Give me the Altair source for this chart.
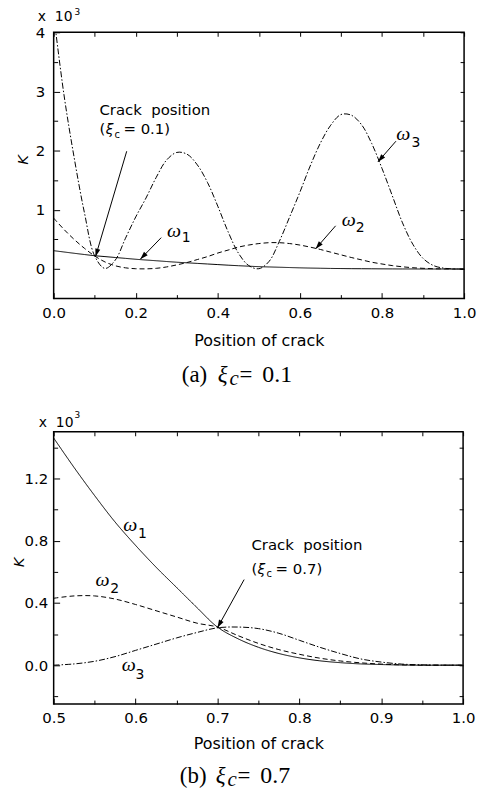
import math
import altair as alt
import pandas as pd

FONT = "DejaVu Sans"
SERIF = "Liberation Serif"
NB = "\u00a0"

# ---------------- data: panel (a), crack at xi_c = 0.1 ----------------
xa = [0.000, 0.025, 0.050, 0.075, 0.100, 0.125, 0.150, 0.175, 0.200, 0.225,
      0.250, 0.275, 0.300, 0.325, 0.350, 0.375, 0.400, 0.425, 0.450, 0.475,
      0.500, 0.525, 0.550, 0.575, 0.600, 0.625, 0.650, 0.675, 0.700, 0.725,
      0.750, 0.775, 0.800, 0.825, 0.850, 0.875, 0.900, 0.925, 0.950, 0.975, 1.000]
a_w1 = [0.310, 0.288, 0.266, 0.245, 0.225, 0.210, 0.195, 0.180, 0.165, 0.152,
        0.140, 0.127, 0.115, 0.105, 0.095, 0.085, 0.075, 0.065, 0.056, 0.048,
        0.040, 0.035, 0.030, 0.025, 0.020, 0.016, 0.013, 0.010, 0.008, 0.006,
        0.005, 0.004, 0.003, 0.002, 0.001, 0.001, 0.000, 0.000, 0.000, 0.000, 0.000]
a_w2 = [0.86, 0.67, 0.50, 0.35, 0.22, 0.12, 0.055, 0.02, 0.005, 0.003,
        0.012, 0.035, 0.07, 0.11, 0.16, 0.21, 0.27, 0.32, 0.37, 0.405,
        0.43, 0.445, 0.445, 0.43, 0.405, 0.37, 0.33, 0.285, 0.24, 0.195,
        0.155, 0.115, 0.085, 0.058, 0.038, 0.022, 0.012, 0.005, 0.002, 0.0, 0.0]
a_w3 = [4.30, 2.95, 1.88, 0.95, 0.22, 0.01, 0.15, 0.52, 0.88, 1.20,
        1.55, 1.84, 1.97, 1.94, 1.76, 1.46, 1.06, 0.63, 0.27, 0.06,
        0.005, 0.13, 0.47, 0.88, 1.30, 1.74, 2.13, 2.43, 2.61, 2.60,
        2.44, 2.12, 1.70, 1.24, 0.78, 0.42, 0.18, 0.06, 0.015, 0.002, 0.0]
a_xmaj = [0.0, 0.2, 0.4, 0.6, 0.8, 1.0]
a_xmin = [0.1, 0.3, 0.5, 0.7, 0.9]
a_ymaj = [0, 1, 2, 3, 4]
a_ymin = [0.5, 1.5, 2.5, 3.5]

# ---------------- data: panel (b), crack at xi_c = 0.7 ----------------
xb = [0.500, 0.525, 0.550, 0.575, 0.600, 0.625, 0.650, 0.675, 0.700, 0.725,
      0.750, 0.775, 0.800, 0.825, 0.850, 0.875, 0.900, 0.925, 0.950, 0.975, 1.000]
b_w1 = [1.46, 1.27, 1.09, 0.92, 0.77, 0.63, 0.50, 0.37, 0.245, 0.17,
        0.115, 0.075, 0.047, 0.028, 0.016, 0.008, 0.004, 0.001, 0.0, 0.0, 0.0]
b_w2 = [0.43, 0.445, 0.445, 0.425, 0.39, 0.35, 0.31, 0.27, 0.245, 0.19,
        0.14, 0.10, 0.07, 0.045, 0.027, 0.015, 0.007, 0.002, 0.0, 0.0, 0.0]
b_w3 = [0.0, 0.008, 0.025, 0.055, 0.095, 0.135, 0.175, 0.21, 0.24, 0.245,
        0.235, 0.205, 0.16, 0.115, 0.075, 0.04, 0.02, 0.007, 0.002, 0.0, 0.0]
b_xmaj = [0.5, 0.6, 0.7, 0.8, 0.9, 1.0]
b_xmin = [0.55, 0.65, 0.75, 0.85, 0.95]
b_ymaj = [0.0, 0.4, 0.8, 1.2]
b_ymin = [-0.2, 0.2, 0.6, 1.0, 1.4]

SERIES = ["w1", "w2", "w3"]

ARROW = "M0,0L-0.32,1L0.32,1Z"


def long_df(xs, w1, w2, w3):
    rows = []
    for name, ys in zip(SERIES, (w1, w2, w3)):
        for x, y in zip(xs, ys):
            rows.append({"x": x, "K": y, "s": name})
    return pd.DataFrame(rows)


def panel(df, xdom, ydom, W, H, xmaj, xmin, ymaj, ymin, yfmt, ylabpad,
          ktitle_x, ktitle_y, xtitle_y, ann):
    xs = alt.Scale(domain=xdom, nice=False, zero=False)
    ys = alt.Scale(domain=ydom, nice=False, zero=False)
    pxx = W / (xdom[1] - xdom[0])
    pxy = H / (ydom[1] - ydom[0])

    lines = alt.Chart(df).mark_line(
        clip=True, color="black", strokeWidth=1, interpolate="catmull-rom"
    ).encode(
        x=alt.X("x:Q", scale=xs, title="Position of crack",
                axis=alt.Axis(values=xmaj, format=".1f", ticks=False, domain=False,
                              grid=False, labelFlush=False, labelFont=FONT,
                              labelFontSize=15, labelColor="black", labelPadding=7,
                              titleFont=FONT, titleFontSize=16, titleFontWeight="normal",
                              titleColor="black", titleBaseline="alphabetic",
                              titleY=xtitle_y)),
        y=alt.Y("K:Q", scale=ys, title="K",
                axis=alt.Axis(values=ymaj, format=yfmt, ticks=False, domain=False,
                              grid=False, labelFont=FONT, labelFontSize=15,
                              labelColor="black", labelPadding=ylabpad,
                              titleFont=FONT, titleFontSize=15, titleFontStyle="italic",
                              titleFontWeight="normal", titleColor="black",
                              titleBaseline="alphabetic", titleX=ktitle_x,
                              titleY=ktitle_y)),
        strokeDash=alt.StrokeDash("s:N", scale=alt.Scale(
            domain=SERIES, range=[[1, 0], [5, 3], [6, 2, 1.5, 2]]), legend=None),
        detail="s:N",
    )

    box = pd.DataFrame({"x": xdom, "K": ydom})

    def ticklayer(xo, yo, xv, yv, size):
        common = dict(ticks=True, tickSize=size, offset=-size, labels=False,
                      domain=False, grid=False, tickColor="black", tickWidth=1)
        return alt.Chart(box).mark_point(opacity=0, size=1).encode(
            x=alt.X("x:Q", scale=xs, title=None,
                    axis=alt.Axis(orient=xo, values=xv, **common)),
            y=alt.Y("K:Q", scale=ys, title=None,
                    axis=alt.Axis(orient=yo, values=yv, **common)),
        )

    layers = [
        lines,
        ticklayer("bottom", "left", xmaj, ymaj, 6),
        ticklayer("bottom", "left", xmin, ymin, 4),
        ticklayer("top", "right", xmaj + xmin, ymaj + ymin, 4),
    ]

    def dtext(rows, font, size, style="normal"):
        return alt.Chart(pd.DataFrame(rows)).mark_text(
            align="left", baseline="alphabetic", font=font, fontSize=size,
            fontStyle=style, color="black"
        ).encode(x=alt.X("x:Q", scale=xs, axis=None),
                 y=alt.Y("y:Q", scale=ys, axis=None), text="t:N")

    def ptext(t, px, py, font, size, style="normal"):
        return alt.Chart(pd.DataFrame({"t": [t]})).mark_text(
            align="left", baseline="alphabetic", font=font, fontSize=size,
            fontStyle=style, color="black"
        ).encode(x=alt.value(px), y=alt.value(py), text="t:N")

    layers += [
        dtext(ann["sans15"], FONT, 15),
        dtext(ann["xi"], FONT, 14, "italic"),
        dtext(ann["sub_c"], FONT, 10),
        dtext(ann["omega"], SERIF, 20, "italic"),
        dtext(ann["sub_n"], FONT, 14),
    ]

    arr = pd.DataFrame(ann["arrows"], columns=["x", "y", "x2", "y2"])
    arr["a"] = [math.degrees(math.atan2((r.x2 - r.x) * pxx, (r.y2 - r.y) * pxy)) % 360
                for r in arr.itertuples()]
    layers.append(alt.Chart(arr).mark_rule(color="black", strokeWidth=1).encode(
        x=alt.X("x:Q", scale=xs, axis=None), y=alt.Y("y:Q", scale=ys, axis=None),
        x2="x2:Q", y2="y2:Q"))
    layers.append(alt.Chart(arr).mark_point(
        shape=ARROW, filled=True, size=260, color="black", opacity=1
    ).encode(x=alt.X("x2:Q", scale=xs, axis=None), y=alt.Y("y2:Q", scale=ys, axis=None),
             angle=alt.Angle("a:Q", scale=None)))

    # multiplier "x 10^3" above the frame and the caption below
    m = ann["mult"]
    layers.append(ptext("x" + NB + NB + "10", m[0], m[1], FONT, 14))
    layers.append(ptext("3", m[2], m[3], FONT, 9))
    c = ann["caption"]
    layers.append(ptext(c["tag"], c["x"][0], H + c["dy"], SERIF, 23))
    layers.append(ptext("ξ", c["x"][1], H + c["dy"], SERIF, 23, "italic"))
    layers.append(ptext("c", c["x"][2], H + c["dy"] + 3, SERIF, 21, "italic"))
    layers.append(ptext("=", c["x"][3], H + c["dy"], SERIF, 23))
    layers.append(ptext(c["val"], c["x"][4], H + c["dy"], SERIF, 24))

    return alt.layer(*layers).resolve_axis(x="independent", y="independent").properties(
        width=W, height=H)


CRACK = "Crack" + NB + NB + "position"

# annotation placements (data coordinates unless noted)
ann_a = {
    "sans15": [{"x": 0.1114, "y": 2.600, "t": CRACK},
               {"x": 0.1114, "y": 2.280, "t": "("},
               {"x": 0.1700, "y": 2.280, "t": "= 0.1)"}],
    "xi": [{"x": 0.1270, "y": 2.280, "t": "ξ"}],
    "sub_c": [{"x": 0.1480, "y": 2.215, "t": "c"}],
    "omega": [{"x": 0.276, "y": 0.54, "t": "ω"},
              {"x": 0.702, "y": 0.72, "t": "ω"},
              {"x": 0.835, "y": 2.18, "t": "ω"}],
    "sub_n": [{"x": 0.312, "y": 0.457, "t": "1"},
              {"x": 0.736, "y": 0.62, "t": "2"},
              {"x": 0.872, "y": 2.07, "t": "3"}],
    "arrows": [[0.178, 1.99, 0.102, 0.21],
               [0.262, 0.53, 0.211, 0.165],
               [0.687, 0.73, 0.638, 0.34],
               [0.834, 2.16, 0.790, 1.81]],
    "mult": [-16, -11, 21, -17],
    "caption": {"tag": "(a)", "val": "0.1", "dy": 84, "x": [129, 165, 177, 187, 210]},
}
ann_b = {
    "sans15": [{"x": 0.7415, "y": 0.740, "t": CRACK},
               {"x": 0.7415, "y": 0.586, "t": "("},
               {"x": 0.7710, "y": 0.586, "t": "= 0.7)"}],
    "xi": [{"x": 0.7490, "y": 0.586, "t": "ξ"}],
    "sub_c": [{"x": 0.7600, "y": 0.567, "t": "c"}],
    "omega": [{"x": 0.585, "y": 0.86, "t": "ω"},
              {"x": 0.551, "y": 0.506, "t": "ω"},
              {"x": 0.583, "y": -0.04, "t": "ω"}],
    "sub_n": [{"x": 0.603, "y": 0.82, "t": "1"},
              {"x": 0.569, "y": 0.467, "t": "2"},
              {"x": 0.600, "y": -0.09, "t": "3"}],
    "arrows": [[0.7326, 0.55, 0.700, 0.24]],
    "mult": [-15, -5, 21, -14],
    "caption": {"tag": "(b)", "val": "0.7", "dy": 79, "x": [127, 163, 175, 185, 208]},
}

top = panel(long_df(xa, a_w1, a_w2, a_w3), [0.0, 1.0], [-0.5, 4.0], 413, 268,
            a_xmaj, a_xmin, a_ymaj, a_ymin, "d", 9, -26, 128, 47, ann_a)
bottom = panel(long_df(xb, b_w1, b_w2, b_w3), [0.5, 1.0], [-0.25, 1.5], 412, 274,
               b_xmaj, b_xmin, b_ymaj, b_ymin, ".1f", 6, -30, 131, 45, ann_b)

chart = alt.vconcat(top, bottom, spacing=20).properties(
    padding={"left": 11, "top": 5, "right": 0, "bottom": 0}
).configure_view(stroke="black", strokeWidth=1.5).configure_concat(spacing=20)

chart.save("out.html", embed_options={"renderer": "svg", "actions": False})
